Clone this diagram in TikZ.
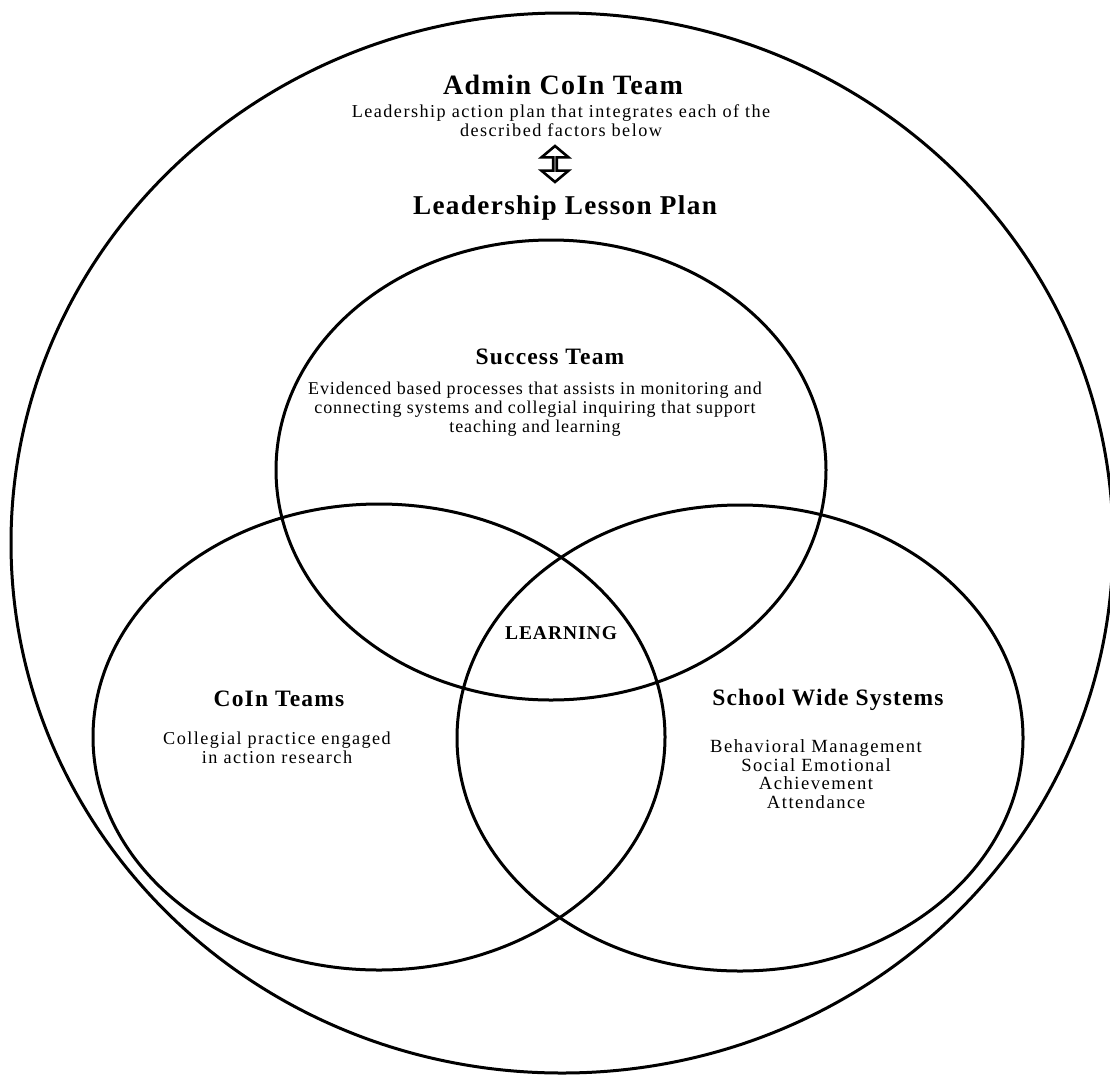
\documentclass[tikz,border=0pt]{standalone}
\usepackage{fontspec}
\setmainfont{Liberation Serif}
\newfontfamily\spfont[LetterSpace=5]{Liberation Serif}
\newfontfamily\wfont[LetterSpace=8]{Liberation Serif}
\usetikzlibrary{shapes.geometric,shapes.arrows}
\begin{document}
\begin{tikzpicture}[x=1pt,y=-1pt,
  ring/.style={draw, ellipse, line width=3pt, inner sep=0pt},
  bigtitle/.style={font=\spfont\bfseries\fontsize{28}{30}\selectfont, align=center, inner sep=0pt},
  subtitle/.style={font=\spfont\bfseries\fontsize{23.5}{25}\selectfont, align=center, inner sep=0pt},
  bodytext/.style={font=\wfont\fontsize{18.2}{19}\selectfont, align=center, inner sep=0pt},
  successtext/.style={font=\spfont\fontsize{18}{19}\selectfont, align=center, inner sep=0pt},
  listtext/.style={font=\wfont\fontsize{18.6}{18.7}\selectfont, align=center, inner sep=0pt},
  learn/.style={font=\spfont\bfseries\fontsize{19.5}{21}\selectfont, inner sep=0pt},
  dblarrow/.style={draw, double arrow, line width=2.6pt, rotate=90, minimum height=36pt,
    minimum width=27pt, inner sep=0pt, text width=10pt, double arrow head extend=8.5pt,
    double arrow tip angle=100}
]
\fill[white] (0,0) rectangle (1110,1076);
\useasboundingbox (0,0) rectangle (1110,1076);
\begin{scope}
\clip (0,0) rectangle (1110,1076);
\node[ring, minimum width=1102pt, minimum height=1060pt] (outer) at (562,543) {};
\end{scope}
\node[ring, minimum width=550pt, minimum height=460pt] (success) at (551,470) {};
\node[ring, minimum width=572pt, minimum height=466pt] (coin) at (379,737) {};
\node[ring, minimum width=566pt, minimum height=466pt] (school) at (740,738) {};

\node[bigtitle] (admin) at (563,85) {Admin CoIn Team};
\node[bodytext] (adminbody) at (561,121) {Leadership action plan that integrates each of the\\described factors below};
\node[dblarrow] (arrow) at (555,164) {};
\node[bigtitle, font=\spfont\bfseries\fontsize{27.2}{30}\selectfont] (lessonplan) at (565,208) {Leadership Lesson Plan};

\node[subtitle] (successtitle) at (550,357) {Success Team};
\node[successtext] (successbody) at (535,409) {Evidenced based processes that assists in monitoring and\\connecting systems and collegial inquiring that support\\teaching and learning};

\node[learn] (learning) at (561,633) {LEARNING};

\node[subtitle] (cointitle) at (279,699) {CoIn Teams};
\node[bodytext] (coinbody) at (277,748) {Collegial practice engaged\\in action research};

\node[subtitle] (schooltitle) at (828,700) {School Wide Systems};
\node[listtext] (schoolbody) at (816,774) {Behavioral Management\\Social Emotional\\Achievement\\Attendance};
\end{tikzpicture}
\end{document}
